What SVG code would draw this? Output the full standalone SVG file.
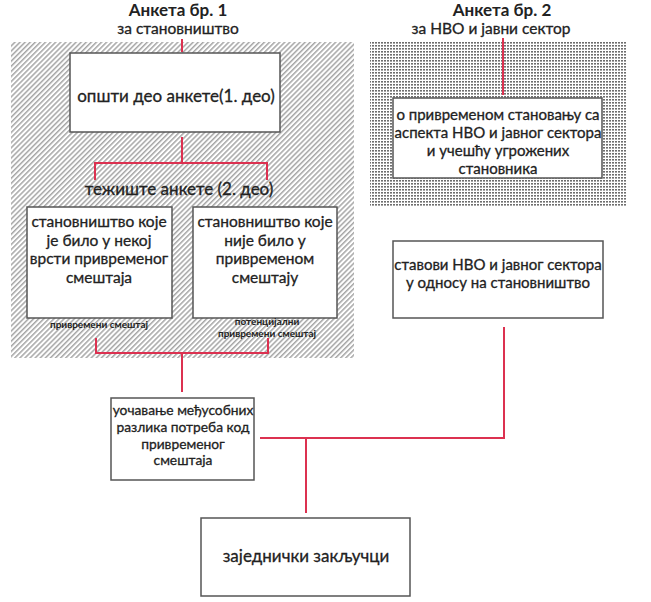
<svg xmlns="http://www.w3.org/2000/svg" width="651" height="602" viewBox="0 0 651 602">
<defs>
<pattern id="hatch" patternUnits="userSpaceOnUse" width="3.6" height="3.6" patternTransform="rotate(-45)">
<rect width="3.6" height="3.6" fill="#ffffff"/>
<rect width="3.6" height="1.5" fill="#a6a6a6"/>
</pattern>
<pattern id="dots" patternUnits="userSpaceOnUse" width="3" height="3">
<rect width="3" height="3" fill="#ffffff"/>
<rect x="0" y="0" width="2" height="1.6" fill="#6e6e6e"/>
</pattern>
</defs>
<style>
.box{fill:#ffffff;stroke:#555555;stroke-width:1.5}
.t{font-family:Lato,"Open Sans",sans-serif;fill:#222222;stroke:#222222;stroke-width:0.3;text-anchor:middle}
.title{font-weight:bold;font-size:17px;stroke-width:0}
.sub{font-size:15.5px}
.big{font-size:17px}
.n16{font-size:15.5px}
.n15{font-size:15px}
.n14{font-size:13.8px}
.small{font-size:10px;font-weight:bold;stroke-width:0}
.con{fill:none;stroke:#dc3150;stroke-width:2}
</style>
<rect x="11" y="42" width="343" height="316" fill="url(#hatch)"/>
<rect x="370" y="42" width="257" height="165" fill="url(#dots)"/>
<g id="titles">
<text class="t title" x="178" y="16">Анкета бр. 1</text>
<text class="t sub" x="178" y="33.5">за становништво</text>
<text class="t title" x="502" y="16">Анкета бр. 2</text>
<text class="t sub" x="491" y="33.5">за НВО и јавни сектор</text>
</g>
<g id="connectors">
<path class="con" d="M182,39 V52"/>
<path class="con" d="M182,137 V163 M95,180 V163 H267 V180"/>
<path class="con" d="M96,338 V353 H268 V338 M182,353 V392"/>
<path class="con" d="M503,38 V95"/>
<path class="con" d="M260,438 H504 V327 M306,438 V513"/>
</g>
<g id="node-opsti">
<rect class="box" x="70" y="53" width="210" height="79"/>
<text class="t big" x="176" y="102">општи део анкете(1. део)</text>
</g>
<g id="node-teziste">
<text class="t big" x="179" y="195">тежиште анкете (2. део)</text>
</g>
<g id="node-bilo">
<rect class="box" x="27" y="207" width="145" height="111"/>
<text class="t n16" x="99" y="227">становништво које</text>
<text class="t n16" x="99" y="245.5">је било у некој</text>
<text class="t n16" x="99" y="264">врсти привременог</text>
<text class="t n16" x="99" y="282.5">смештаја</text>
<text class="t small" x="99" y="328">привремени смештај</text>
</g>
<g id="node-nije">
<rect class="box" x="193" y="207" width="144" height="111"/>
<text class="t n16" x="265" y="227">становништво које</text>
<text class="t n16" x="265" y="245.5">није било у</text>
<text class="t n16" x="265" y="264">привременом</text>
<text class="t n16" x="265" y="282.5">смештају</text>
<text class="t small" x="267" y="325">потенцијални</text>
<text class="t small" x="267" y="337">привремени смештај</text>
</g>
<g id="node-nvo">
<rect class="box" x="393" y="98" width="209" height="80"/>
<text class="t n15" x="498" y="120">о привременом становању са</text>
<text class="t n15" x="498" y="138">аспекта НВО и јавног сектора</text>
<text class="t n15" x="498" y="156">и учешћу угрожених</text>
<text class="t n15" x="498" y="174">становника</text>
</g>
<g id="node-stavovi">
<rect class="box" x="393" y="241" width="210" height="77"/>
<text class="t n15" x="498" y="270">ставови НВО и јавног сектора</text>
<text class="t n15" x="498" y="288">у односу на становништво</text>
</g>
<g id="node-razlike">
<rect class="box" x="111" y="398" width="143" height="82"/>
<text class="t n14" x="183" y="415">уочавање међусобних</text>
<text class="t n14" x="183" y="432">разлика потреба код</text>
<text class="t n14" x="183" y="448.5">привременог</text>
<text class="t n14" x="183" y="465">смештаја</text>
</g>
<g id="node-zakljucci">
<rect class="box" x="201" y="518" width="209" height="78"/>
<text class="t big" x="306" y="562">заједнички закључци</text>
</g>
</svg>
